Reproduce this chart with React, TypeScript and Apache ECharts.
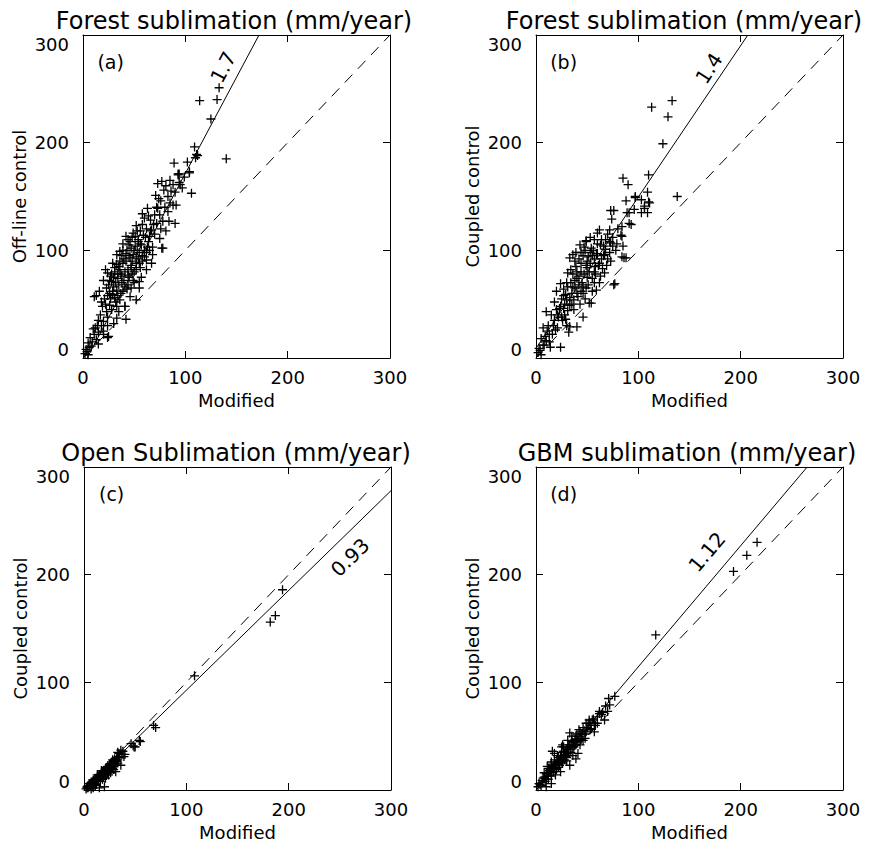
import React, { useEffect, useRef } from "react";
import * as echarts from "echarts";

const panelTitles = [
  "Forest sublimation (mm/year)",
  "Forest sublimation (mm/year)",
  "Open Sublimation (mm/year)",
  "GBM sublimation (mm/year)",
];
const panelLetters = ["(a)", "(b)", "(c)", "(d)"];
const yAxisNames = ["Off-line control", "Coupled control", "Coupled control", "Coupled control"];
const xAxisName = "Modified";
const tickValues = [0, 100, 200, 300];

const slopeLabels = ["1.7", "1.4", "0.93", "1.12"];
const slopeLabelPos = [[137, 270], [169, 269], [260, 216], [167, 221]];
const slopeLabelAngle = [62, 57, 44, 50];
const letterPos = [27, 275];

const fitLines = [
  [[4, 0], [172, 300]],
  [[0, 9], [207, 300]],
  [[0, 0], [300, 278]],
  [[0, 2], [265, 300]],
];
const oneToOne = [[0, 0], [300, 300]];

const pointsA = [
  [114,239],[133,251],[131,240],[125,222],[140,185],[109,196],[111,189],[110,186],[102,182],[104,172],[106,153],[89,181],[93,171],[95,161],[90,125],[88,142],[77,102],[75,133],[55,65],[41,48],[13,58],[25,20],
  [112,188],[104,173],[94,171],[93,170],[77,164],[73,162],[85,165],[88,161],[94,163],[97,158],[90,154],[71,151],[74,148],[83,150],[85,144],[91,142],[63,139],[73,139],[70,133],[83,136],[58,134],[60,130],[78,127],[84,127],[52,123],[62,120],[67,119],[49,116],[59,114],[65,113],[75,111],[42,113],[46,108],[54,110],[39,106],[57,105],[68,103],[78,102],
  [45,105],[54,108],[63,103],[33,96],[42,97],[52,94],[62,91],[67,88],[36,90],[47,86],[24,79],[31,80],[20,72],[28,71],[38,76],[44,77],[49,72],[55,71],[41,66],[33,63],[11,57],[21,55],[29,59],[36,54],[46,57],[52,54],[18,52],[26,49],[33,48],[23,43],[41,48],[24,38],[20,34],[24,30],[10,27],[15,24],[20,22],[24,19],[7,19],[13,17],[5,14],[8,11],[3,8],[15,13],[2,4],[5,3],[33,37],[42,36],
  [35,85],[40,92],[45,95],[50,100],[55,98],[48,90],[52,88],[58,95],[44,82],[38,70],[30,66],[26,60],[34,74],[50,80],[56,84],[60,100],[64,108],[70,115],[72,125],[66,128],[80,140],[86,155],[99,168],[17,40],[14,30],[11,22],[28,45],[32,52],[37,60],[43,64],[57,75],[62,82],[25,68],[16,62],[22,82],[29,88],[39,100],[47,102],[53,118],[58,124],[81,118],[76,120],[68,96],[47,65],[30,32],[20,25],[35,43],
  [30,75],[34,78],[36,82],[39,88],[42,90],[46,93],[49,96],[51,104],[53,100],[56,106],[43,100],[38,95],[31,84],[27,76],[23,65],[26,72],[32,70],[35,68],[40,72],[45,75],[48,78],[52,82],[55,88],[58,90],[60,94],[62,98],[65,100],[54,92],[47,84],[41,80],[37,78],[29,62],[24,58],[19,48],[22,50],[27,55],[31,56],[34,58],[39,62],[44,68],[50,70],[28,78],[33,87],[36,99],[44,110],[48,112],[51,113],[56,118],[61,112],[66,118],[69,124],[64,132],[72,140],[76,146],[79,156],[81,160],[15,35],[12,28],[18,30],[9,15],[6,10],[4,6],
];

const pointsB = [
  [113,233],[133,239],[129,224],[124,199],[110,170],[85,167],[90,161],[88,146],[97,149],[109,154],[110,145],[106,141],[109,135],[138,150],[89,135],[91,125],[73,137],[76,137],[83,114],[84,94],[88,93],[76,68],[40,29],[32,24],[24,10],
  [97,150],[103,147],[111,144],[106,139],[96,138],[103,135],[91,135],[74,129],[93,124],[84,122],[72,119],[62,119],[60,116],[84,113],[49,109],[57,110],[68,110],[73,107],[47,103],[54,102],[75,104],[85,104],[60,97],[36,96],[51,94],[33,93],[68,101],
  [59,97],[86,93],[39,85],[49,86],[65,83],[31,79],[42,76],[55,74],[67,79],[77,69],[24,69],[36,66],[49,65],[59,63],[20,62],[29,59],[41,57],[54,51],[18,52],[10,43],[23,46],[33,49],[18,35],[26,35],[7,28],[11,25],[21,28],[5,18],[13,15],[8,12],[3,9],[2,5],[5,3],[33,29],[46,38],[52,51],
  [40,80],[44,88],[50,90],[55,95],[45,70],[38,72],[30,70],[35,60],[46,60],[50,75],[58,85],[62,88],[28,50],[25,55],[15,40],[20,45],[12,30],[16,22],[70,92],[66,95],[63,105],[57,92],[44,98],[52,80],[34,82],[27,64],[22,38],[9,20],[48,55],[37,45],[43,50],[63,76],[72,98],[79,106],[70,115],[80,120],[57,70],[28,40],[30,30],[14,10],
  [38,90],[42,92],[46,95],[48,100],[53,98],[56,100],[60,106],[64,110],[36,78],[40,74],[44,80],[47,78],[50,84],[53,88],[57,80],[61,86],[64,92],[67,96],[31,66],[34,70],[38,65],[42,68],[46,66],[51,68],[55,62],[27,58],[30,54],[33,56],[37,54],[40,60],[44,62],[24,48],[27,46],[31,44],[35,50],[21,40],[25,38],[29,36],[17,30],[19,26],[13,22],[10,16],[7,12],[4,7],[72,108],[75,112],[66,104],[78,100],[58,78],[62,70],[69,86],[73,90],[43,105],[49,108],[39,98],[53,112],
];

const pointsC = [
  [194,186],[182,156],[187,162],[108,106],[70,58],[55,45],[50,40],[48,41],[68,60],[54,46],[49,40],[46,43],[38,36],[34,34],[39,31],[33,28],[36,23],[29,22],[24,19],[20,16],[31,17],[16,12],[13,9],[10,6],[7,5],[3,3],[21,11],[20,3],[15,2],
  [25,22],[27,24],[30,26],[32,30],[28,20],[22,18],[18,14],[14,11],[12,10],[9,8],[6,4],[4,2],[2,1],[5,6],[8,7],[11,9],[17,15],[19,17],[23,20],[26,21],[35,30],[37,33],[40,33],[26,16],[24,14],[18,10],[16,8],[12,5],[22,14],[29,25],[31,27],[11,4],[9,2],[7,1],[13,14],[15,13],[21,20],[28,28],[33,35],[36,37],[17,18],
  [3,2],[4,4],[5,3],[6,6],[7,7],[8,6],[9,9],[10,8],[11,11],[12,9],[13,12],[14,13],[15,14],[16,14],[17,16],[18,16],[19,18],[20,18],[21,19],[22,21],[23,22],[24,21],[25,24],[26,24],[27,26],[29,27],[30,29],[32,27],[34,31],[8,3],[10,5],[14,8],[16,10],[19,12],[23,16],[25,18],[27,20],[29,19],[31,24],[33,25],
];

const pointsD = [
  [216,230],[206,218],[193,203],[117,144],[77,87],[71,85],[72,79],[70,73],[62,71],[60,68],[67,65],[52,65],[49,62],[57,62],[54,57],[49,54],[57,54],[42,56],[33,53],[39,50],[46,46],[31,46],[26,42],[36,40],[41,34],[39,29],[18,34],[15,26],[23,28],[29,31],[11,22],[20,19],[8,16],[24,17],[7,11],[15,6],[3,6],[2,3],[10,3],[33,23],[28,33],[16,36],
  [35,45],[30,38],[25,35],[22,30],[27,36],[32,40],[37,44],[44,50],[47,55],[40,46],[34,38],[28,28],[26,25],[20,24],[18,20],[14,16],[12,13],[10,10],[6,7],[5,4],[13,18],[17,23],[21,26],[24,31],[38,42],[42,48],[45,52],[50,58],[53,60],[55,65],[60,62],[64,70],[36,32],[30,27],[19,14],[22,21],[48,48],[43,42],[31,34],[35,50],[25,40],
  [4,5],[6,9],[8,12],[9,8],[11,15],[12,10],[14,19],[15,13],[16,21],[17,17],[19,24],[20,20],[22,27],[23,23],[24,29],[25,26],[27,32],[28,31],[29,35],[30,30],[31,38],[32,35],[33,42],[34,35],[36,44],[37,40],[38,47],[39,42],[40,52],[41,45],[43,54],[44,47],[46,58],[48,52],[51,62],[53,56],[56,66],[58,60],[62,73],[65,72],[68,78],[27,40],[21,32],[18,28],[15,24],[12,20],[10,15],
];

const allPoints = [pointsA, pointsB, pointsC, pointsD];

const FONT = "DejaVu Sans";

export default function App() {
  const ref = useRef<HTMLDivElement>(null);

  useEffect(() => {
    document.body.style.margin = "0";
    if (!ref.current) return;
    const chart = echarts.init(ref.current, null, { renderer: "svg" });

    const grids = [
      { left: 83, top: 35, width: 307, height: 323 },
      { left: 536, top: 35, width: 307, height: 323 },
      { left: 84, top: 467, width: 307, height: 323 },
      { left: 536, top: 467, width: 307, height: 323 },
    ];
    const titlePos = [[234, 21], [684, 21], [236, 453], [687, 453]];

    const lineStyleAxis = { color: "#000", width: 1 };
    const xAxes: any[] = [];
    const yAxes: any[] = [];
    for (let i = 0; i < 4; i++) {
      xAxes.push({
        gridIndex: i, type: "value", position: "bottom", min: 0, max: 300, interval: 100,
        axisLine: { show: true, onZero: false, lineStyle: lineStyleAxis },
        axisTick: { show: true, inside: true, length: 7, lineStyle: lineStyleAxis },
        axisLabel: { show: true, color: "#000", fontFamily: FONT, fontSize: 18, margin: 10,
          formatter: (v: number) => (tickValues.includes(v) ? String(v) : "") },
        splitLine: { show: false },
        name: xAxisName, nameLocation: "middle", nameGap: 33,
        nameTextStyle: { color: "#000", fontFamily: FONT, fontSize: 18 },
      });
      yAxes.push({
        gridIndex: i, type: "value", position: "left", min: 0, max: 300, interval: 100,
        axisLine: { show: true, onZero: false, lineStyle: lineStyleAxis },
        axisTick: { show: true, inside: true, length: 7, lineStyle: lineStyleAxis },
        axisLabel: { show: true, color: "#000", fontFamily: FONT, fontSize: 18, margin: 14,
          verticalAlignMinLabel: "bottom", verticalAlignMaxLabel: "top" },
        splitLine: { show: false },
        name: yAxisNames[i], nameLocation: "middle", nameGap: 55, nameRotate: 90,
        nameTextStyle: { color: "#000", fontFamily: FONT, fontSize: 18 },
      });
    }
    for (let i = 0; i < 4; i++) {
      xAxes.push({
        gridIndex: i, type: "value", position: "top", min: 0, max: 300, interval: 100,
        axisLine: { show: true, onZero: false, lineStyle: lineStyleAxis },
        axisTick: { show: true, inside: true, length: 7, lineStyle: lineStyleAxis },
        axisLabel: { show: false }, splitLine: { show: false },
      });
      yAxes.push({
        gridIndex: i, type: "value", position: "right", min: 0, max: 300, interval: 100,
        axisLine: { show: true, onZero: false, lineStyle: lineStyleAxis },
        axisTick: { show: true, inside: true, length: 7, lineStyle: lineStyleAxis },
        axisLabel: { show: false }, splitLine: { show: false },
      });
    }

    const series: any[] = [];
    for (let i = 0; i < 4; i++) {
      series.push({
        type: "scatter", xAxisIndex: i, yAxisIndex: i,
        data: allPoints[i],
        symbol: "path://M5,0L5,10M0,5L10,5",
        symbolSize: 9,
        itemStyle: { color: "transparent", borderColor: "#000", borderWidth: 1.3, opacity: 1 },
        silent: true, z: 3,
      });
      series.push({
        type: "line", xAxisIndex: i, yAxisIndex: i, data: oneToOne,
        symbol: "none", lineStyle: { color: "#000", width: 1, type: [11, 8] }, silent: true, z: 2,
      });
      series.push({
        type: "line", xAxisIndex: i, yAxisIndex: i, data: fitLines[i],
        symbol: "none", lineStyle: { color: "#000", width: 1 }, silent: true, z: 2,
      });
      series.push({
        type: "scatter", xAxisIndex: i, yAxisIndex: i, data: [slopeLabelPos[i]],
        symbolSize: 0, silent: true, z: 4, itemStyle: { opacity: 1 },
        label: { show: true, position: "inside", formatter: slopeLabels[i], rotate: slopeLabelAngle[i],
          color: "#000", fontFamily: FONT, fontSize: 20 },
      });
      series.push({
        type: "scatter", xAxisIndex: i, yAxisIndex: i, data: [letterPos],
        symbolSize: 0, silent: true, z: 4, itemStyle: { opacity: 1 },
        label: { show: true, position: "inside", formatter: panelLetters[i],
          color: "#000", fontFamily: FONT, fontSize: 19 },
      });
    }

    const graphic = panelTitles.map((t, i) => ({
      type: "text", x: titlePos[i][0], y: titlePos[i][1],
      style: { text: t, fill: "#000", font: `24px "${FONT}"`, textAlign: "center", textVerticalAlign: "middle" },
    }));

    chart.setOption({
      animation: false,
      backgroundColor: "#fff",
      grid: grids,
      xAxis: xAxes,
      yAxis: yAxes,
      series,
      graphic,
    });
    return () => chart.dispose();
  }, []);

  return <div ref={ref} style={{ width: 874, height: 845 }} />;
}
